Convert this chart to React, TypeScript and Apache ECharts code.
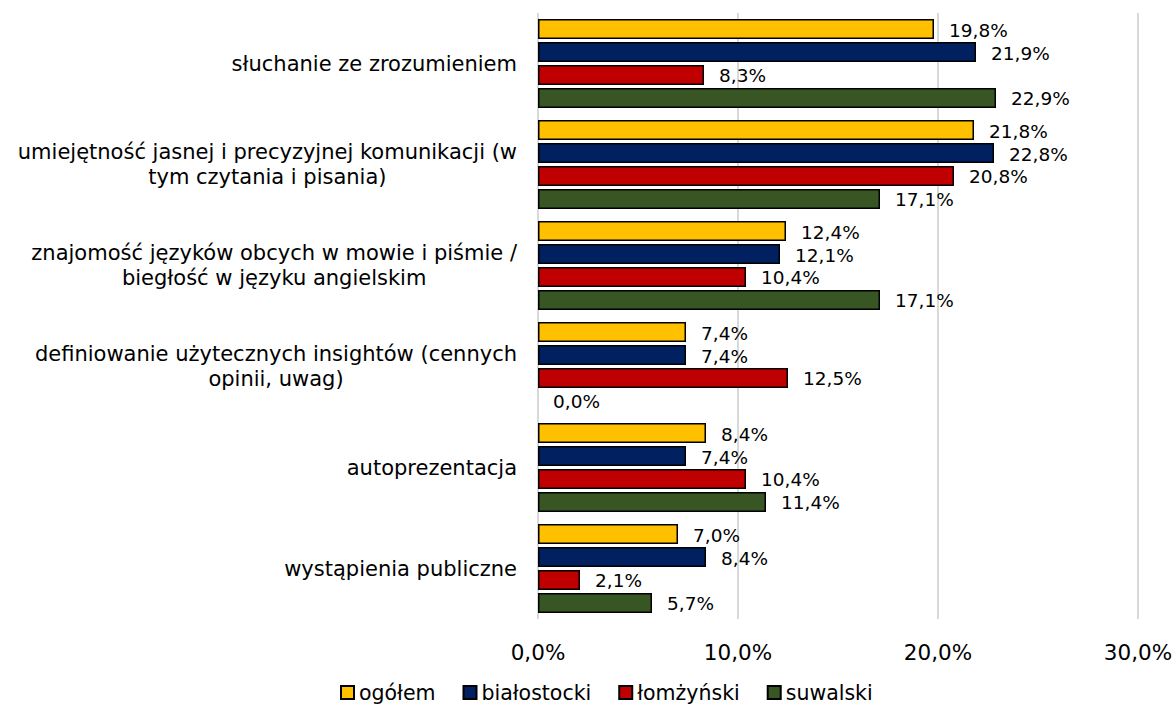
import React, { useEffect, useRef } from "react";
import * as echarts from "echarts";

const categories = [
  "słuchanie ze zrozumieniem",
  "umiejętność jasnej i precyzyjnej komunikacji (w\ntym czytania i pisania)",
  "znajomość języków obcych w mowie i piśmie /\nbiegłość w języku angielskim",
  "definiowanie użytecznych insightów (cennych\nopinii, uwag)",
  "autoprezentacja",
  "wystąpienia publiczne",
];

const seriesNames = ["ogółem", "białostocki", "łomżyński", "suwalski"];
const ogolem = [19.8, 21.8, 12.4, 7.4, 8.4, 7.0];
const bialostocki = [21.9, 22.8, 12.1, 7.4, 7.4, 8.4];
const lomzynski = [8.3, 20.8, 10.4, 12.5, 10.4, 2.1];
const suwalski = [22.9, 17.1, 17.1, 0.0, 11.4, 5.7];
const seriesColors = ["#FFC000", "#002060", "#C00000", "#375623"];
const xTicks = [0, 10, 20, 30];

const FONT = "DejaVu Sans";

const fmt = (v: number) => v.toFixed(1).replace(".", ",") + "%";

export default function App() {
  const ref = useRef<HTMLDivElement>(null);
  useEffect(() => {
    if (!ref.current) return;
    document.body.style.margin = "0";
    const chart = echarts.init(ref.current, undefined, { renderer: "svg" });
    const values = [ogolem, bialostocki, lomzynski, suwalski];
    chart.setOption({
      animation: false,
      textStyle: { fontFamily: FONT },
      grid: { left: 538, right: 38, top: 13, bottom: 96, containLabel: false },
      legend: {
        top: 677,
        left: 335,
        icon: "rect",
        itemWidth: 13,
        itemHeight: 13,
        itemGap: 27,
        textStyle: { fontFamily: FONT, fontSize: 20.5, color: "#000" },
        data: seriesNames,
      },
      xAxis: {
        type: "value",
        min: xTicks[0],
        max: xTicks[xTicks.length - 1],
        interval: 10,
        axisLine: { show: false },
        axisTick: { show: false },
        splitLine: { lineStyle: { color: "#d9d9d9", width: 2 } },
        axisLabel: {
          margin: 22,
          fontSize: 21.5,
          color: "#000",
          fontFamily: FONT,
          formatter: (v: number) => fmt(v),
        },
      },
      yAxis: {
        type: "category",
        inverse: true,
        data: categories,
        axisLine: { show: false },
        axisTick: { show: false },
        axisLabel: {
          margin: 21,
          color: "#000",
          formatter: (v: string) =>
            v
              .split("\n")
              .map((l) => "{c|" + l + "}")
              .join("\n"),
          rich: {
            c: {
              align: "center",
              fontSize: 21,
              fontFamily: FONT,
              color: "#000",
              lineHeight: 25,
            },
          },
        },
      },
      series: seriesNames.map((name, i) => ({
        name,
        type: "bar",
        data: values[i].map((v) =>
          v === 0 ? { value: v, itemStyle: { borderWidth: 0 } } : v
        ),
        barGap: "15%",
        barCategoryGap: "12%",
        itemStyle: { color: seriesColors[i], borderColor: "#000", borderWidth: 1.5 },
        label: {
          show: true,
          position: "right",
          distance: 15,
          offset: [0, 1],
          fontSize: 18.5,
          fontFamily: FONT,
          color: "#000",
          formatter: (p: any) => fmt(p.value),
        },
      })),
    });
    return () => chart.dispose();
  }, []);
  return <div ref={ref} style={{ width: 1176, height: 715 }} />;
}
